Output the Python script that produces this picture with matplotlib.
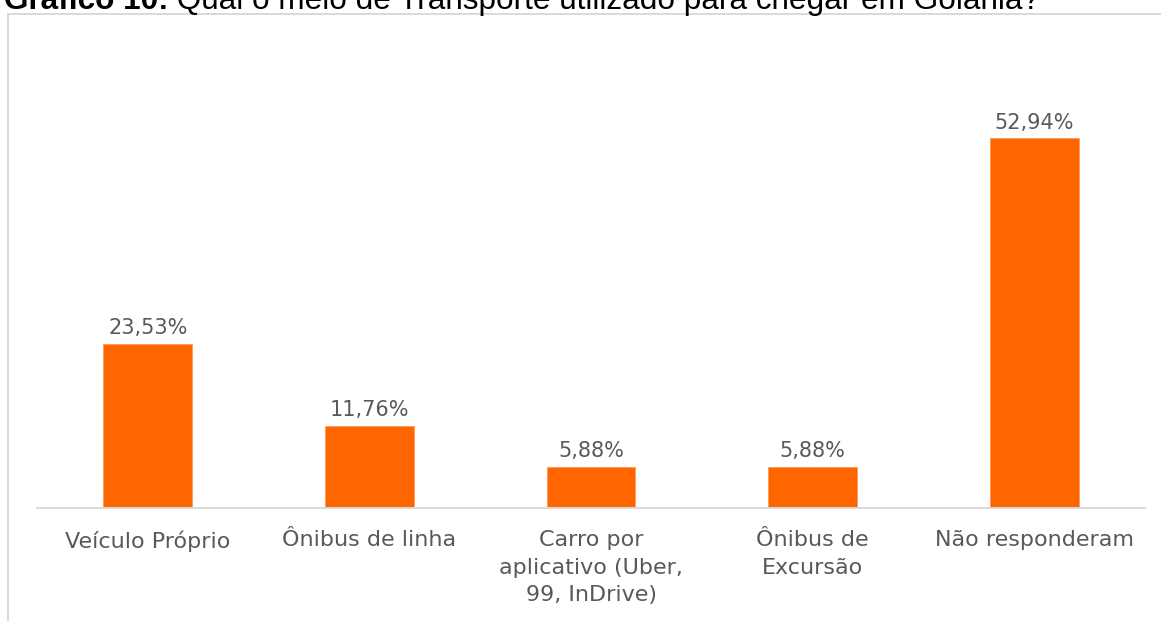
import matplotlib
matplotlib.use("Agg")
import matplotlib.pyplot as plt
from matplotlib.patches import Rectangle

categories = ["Veículo Próprio", "Ônibus de linha", "Carro por\naplicativo (Uber,\n99, InDrive)",
              "Ônibus de\nExcursão", "Não responderam"]
values = [23.53, 11.76, 5.88, 5.88, 52.94]
value_labels = ["23,53%", "11,76%", "5,88%", "5,88%", "52,94%"]

title_bold = "Gráfico 10:"
title_rest = " Qual o meio de Transporte utilizado para chegar em Goiânia?"

W, H = 1161, 621
fig = plt.figure(figsize=(W / 100, H / 100), dpi=100, facecolor="white")

# chart frame (cut by the image edges)
frame = Rectangle((7.5 / W, -0.2), 1.2, 1.2 - 13.5 / H, transform=fig.transFigure,
                  fill=False, edgecolor="#D9D9D9", linewidth=1.4)
fig.patches.append(frame)

ax = fig.add_axes([37 / W, 113 / H, (1145 - 37) / W, 419 / H])
x = range(len(categories))
bars = ax.bar(x, values, width=0.4, color="#FF6600", edgecolor="#FF9A55", linewidth=0.6)

ax.set_xlim(-0.5, len(categories) - 0.5)
ax.set_ylim(0, 60)
ax.set_yticks([])
for side in ["left", "right", "top"]:
    ax.spines[side].set_visible(False)
ax.spines["bottom"].set_color("#D9D9D9")
ax.spines["bottom"].set_linewidth(1.4)

ax.set_xticks(list(x))
ax.set_xticklabels(categories, fontsize=16, color="#595959", family="DejaVu Sans",
                   linespacing=1.46, va="top")
ax.tick_params(axis="x", length=0, pad=16)

for xi, v, lab in zip(x, values, value_labels):
    ax.annotate(lab, (xi, v), xytext=(0, 4), textcoords="offset points",
                ha="center", va="bottom", fontsize=15, color="#595959", family="DejaVu Sans")

# title, partly cut at the top of the image
t1 = fig.text(4 / W, 1 - 9 / H, title_bold, fontsize=22.7, fontweight="bold",
              family="Liberation Sans", color="black", va="baseline", ha="left")
fig.canvas.draw()
bb = t1.get_window_extent()
fig.text(bb.x1 / W, 1 - 9 / H, title_rest, fontsize=22.7, family="Liberation Sans",
         color="black", va="baseline", ha="left")

fig.savefig("out.png", dpi=100, facecolor="white")
